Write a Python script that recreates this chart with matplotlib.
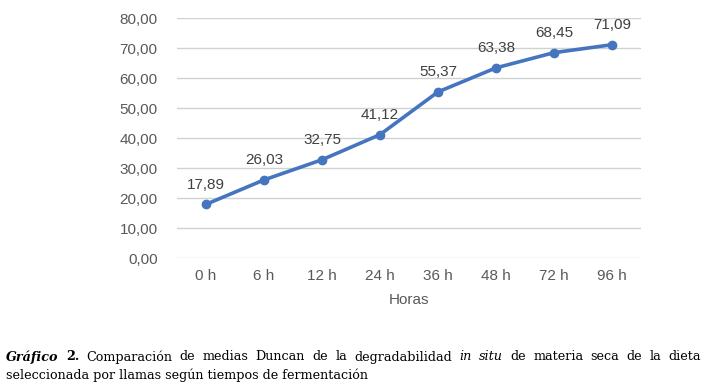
import matplotlib
matplotlib.use("Agg")
import matplotlib.pyplot as plt

categories = ["0 h", "6 h", "12 h", "24 h", "36 h", "48 h", "72 h", "96 h"]
values = [17.89, 26.03, 32.75, 41.12, 55.37, 63.38, 68.45, 71.09]
yticks = [0, 10, 20, 30, 40, 50, 60, 70, 80]

plt.rcParams['font.family'] = ['Liberation Sans', 'DejaVu Sans']
sans = 'Liberation Sans'

fig = plt.figure(figsize=(7.06, 3.86), dpi=100)
ax = fig.add_axes([177/706, 1-258/386, 464/706, 240/386])

x = list(range(len(categories)))
ax.plot(x, values, color='#4675C0', linewidth=2.6, marker='o', markersize=6,
        markerfacecolor='#4675C0', markeredgecolor='#4675C0', zorder=3)
for xi, v in zip(x, values):
    ax.annotate(f"{v:.2f}".replace('.', ','), (xi, v), xytext=(0, 9),
                textcoords='offset points', ha='center', va='bottom',
                fontsize=11, color='#404040', family=sans)

ax.set_xlim(-0.5, len(categories) - 0.5)
ax.set_ylim(0, 80)
ax.set_yticks(yticks)
ax.set_yticklabels([f"{t:.2f}".replace('.', ',') for t in yticks], family=sans)
ax.set_xticks(x)
ax.set_xticklabels(categories, family=sans)
ax.tick_params(length=0, labelsize=11, labelcolor='#595959')
ax.tick_params(axis='y', pad=14)
ax.tick_params(axis='x', pad=8)
ax.grid(axis='y', color='#CDD3CD', linewidth=1)
ax.set_axisbelow(True)
for s in ax.spines.values():
    s.set_visible(False)
ax.set_xlabel("Horas", fontsize=11, color='#595959', labelpad=7, family=sans)

# caption, first line justified
cap_font = dict(family='DejaVu Serif', fontsize=9.2, color='black')
line1 = [("Gráfico", 'italic', 'bold'), ("2.", 'normal', 'bold'),
         ("Comparación", 'normal', 'normal'), ("de", 'normal', 'normal'),
         ("medias", 'normal', 'normal'), ("Duncan", 'normal', 'normal'),
         ("de", 'normal', 'normal'), ("la", 'normal', 'normal'),
         ("degradabilidad", 'normal', 'normal'), ("in", 'italic', 'normal'),
         ("situ", 'italic', 'normal'), ("de", 'normal', 'normal'),
         ("materia", 'normal', 'normal'), ("seca", 'normal', 'normal'),
         ("de", 'normal', 'normal'), ("la", 'normal', 'normal'),
         ("dieta", 'normal', 'normal')]
renderer = fig.canvas.get_renderer()
texts = []
for w, st, wt in line1:
    t = fig.text(0, 1 - 357/386, w, style=st, weight=wt, va='center', ha='left', **cap_font)
    texts.append(t)
widths = [t.get_window_extent(renderer).width for t in texts]
left_px, right_px = 6, 701
gap = (right_px - left_px - sum(widths)) / (len(texts) - 1)
xpos = left_px
for t, w in zip(texts, widths):
    t.set_x(xpos / 706)
    xpos += w + gap
fig.text(6/706, 1 - 375/386, "seleccionada por llamas según tiempos de fermentación",
         va='center', ha='left', **cap_font)

fig.savefig("out.png", dpi=100)
